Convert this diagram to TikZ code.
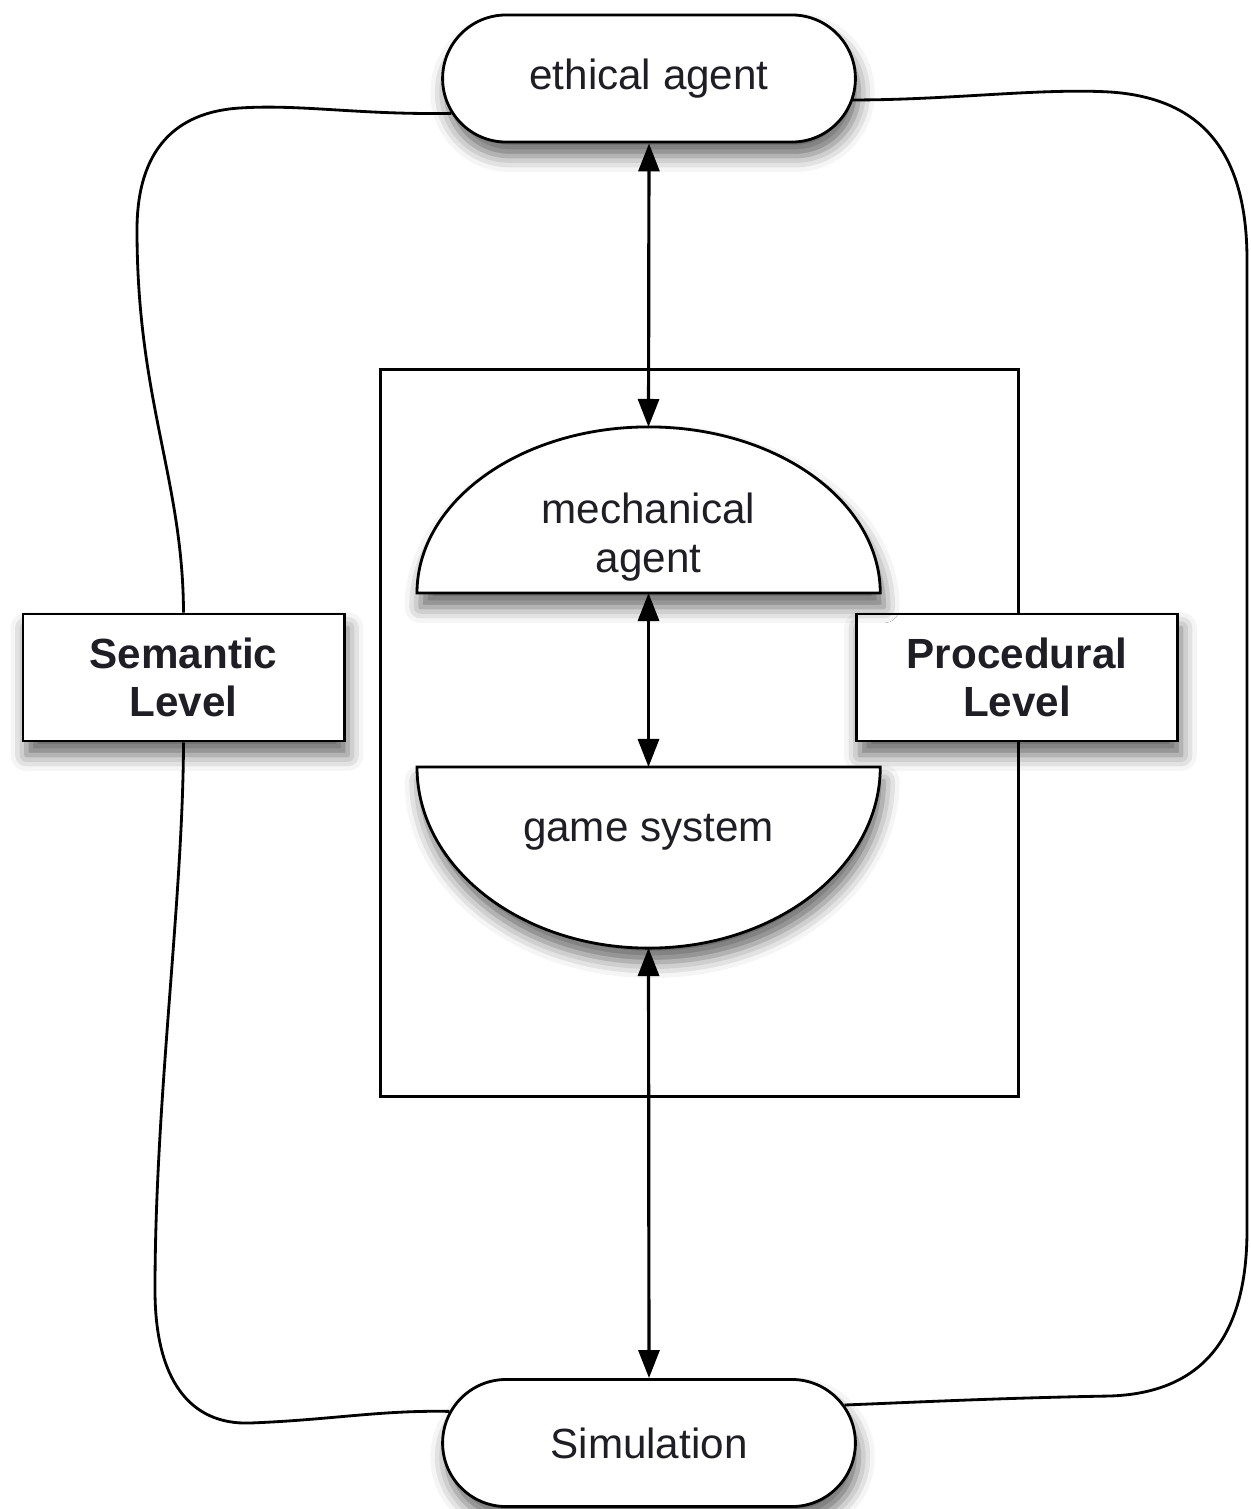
\documentclass[tikz,border=0pt]{standalone}
\usepackage{fontspec}
\setmainfont{Liberation Sans}
\usetikzlibrary{shapes.misc,shadows.blur,arrows.meta}
\definecolor{ink}{HTML}{1E1E24}
\begin{document}
\begin{tikzpicture}[x=0.01cm,y=-0.01cm,line width=0.8pt,
  shad/.style={blur shadow={shadow xshift=1pt,shadow yshift=-4pt,shadow blur radius=4.5pt,shadow opacity=60}},
  pill/.style={rounded rectangle,draw,fill=white,minimum width=4.36cm,minimum height=1.27cm,
    text=ink,font=\fontsize{12}{14}\selectfont,shad},
  levelbox/.style={draw,fill=white,minimum width=3.21cm,minimum height=1.27cm,align=center,
    text=ink,font=\bfseries\fontsize{12}{13.7}\selectfont,shad},
  dome/.style={draw,fill=white,shad},
  lbl/.style={align=center,text=ink,font=\fontsize{12}{13.7}\selectfont},
  biarrow/.style={{Triangle[length=0.28cm,width=0.21cm]}-{Triangle[length=0.28cm,width=0.21cm]},draw=black,fill=black,line width=0.9pt},
  wire/.style={line width=0.8pt}]
\useasboundingbox (0,0) rectangle (1250,1509);

% outer frame
\node (frame) [draw,line width=0.8pt,minimum width=6.37cm,minimum height=7.26cm,inner sep=0pt] at (699.5,733) {};

% level boxes and pills
\node (sem) [levelbox] at (183.5,677.5) {Semantic\\Level};
\node (proc) [levelbox] at (1017,677.5) {Procedural\\Level};
\node (ea) [pill] at (649,78.5) {ethical agent};
\node (sim) [pill] at (649,1443) {Simulation};

% wavy connectors
\draw[wire] (ea.190) .. controls (360,115) and (300,104) .. (240,108)
  .. controls (175,112) and (137,150) .. (137,230)
  .. controls (137,400) and (183,480) .. (sem.north);
\draw[wire] (sem.south) .. controls (183,900) and (155,1100) .. (155,1290)
  .. controls (155,1380) and (190,1425) .. (250,1423)
  .. controls (330,1420) and (380,1410) .. (sim.171);
\draw[wire] (ea.354) .. controls (950,100) and (1040,88) .. (1110,92)
  .. controls (1200,98) and (1247,150) .. (1247,260)
  -- (1247,1230)
  .. controls (1247,1340) and (1200,1393) .. (1110,1396)
  .. controls (1000,1398) and (920,1402) .. (sim.11);

% domes
\path[dome] (417,593) arc[start angle=180,end angle=0,x radius=2.315cm,y radius=1.66cm] -- cycle;
\path[dome] (417,767) arc[start angle=180,end angle=360,x radius=2.315cm,y radius=1.81cm] -- cycle;
\node (ma) [lbl] at (648.5,537) {mechanical\\agent};
\node (gs) [lbl] at (648.5,832) {game system};
\coordinate (matop) at (648.5,427);
\coordinate (mabot) at (648.5,593);
\coordinate (gstop) at (648.5,767);
\coordinate (gsbot) at (648.5,948);

% arrows
\draw[biarrow] (ea.south) -- (matop);
\draw[biarrow] (mabot) -- (gstop);
\draw[biarrow] (gsbot) -- (sim.north);
\end{tikzpicture}
\end{document}
